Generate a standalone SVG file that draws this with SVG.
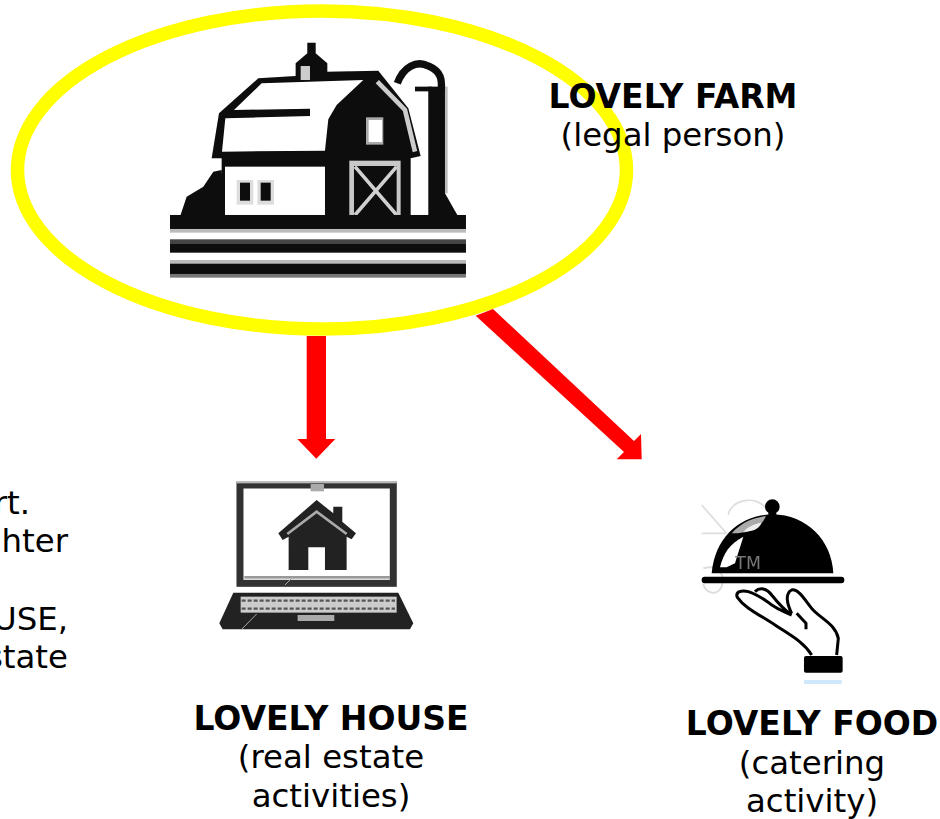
<svg xmlns="http://www.w3.org/2000/svg" width="940" height="819" viewBox="0 0 940 819">
<style>
.t{font-family:"DejaVu Sans",Verdana,sans-serif;font-size:32.4px;fill:#000;text-anchor:middle}
.b{font-weight:700;font-size:33px}
.e{text-anchor:end}
.k{fill:#0a0a0a}
.w{fill:#fff}
.g{fill:#bbb}
</style>
<defs><filter id="soft" x="-5%" y="-5%" width="110%" height="110%"><feGaussianBlur stdDeviation="1.8"/></filter></defs>
<rect width="940" height="819" fill="#fff"/>
<g id="farm-ring"><ellipse cx="322" cy="170" rx="304.5" ry="159" fill="none" stroke="#ffff00" stroke-width="13.5"/></g>
<g id="connectors" fill="#ff0000">
<polygon points="306.7,336 326,336 326,439 335.3,439 316.3,458.7 297.3,439 306.7,439"/>
<polygon points="475.7,315.7 493,309 634,441 641,434 641.7,459.3 616.7,459.3 624,452"/>
</g>
<g id="farm">
<g transform="translate(150,30) scale(0.3333)" filter="url(#soft)">
<path class="k" d="M90 560L110 500L160 470L190 425L215 420L225 560Z"/>
<path class="k" d="M885 490L925 560H840V490Z"/>
<path d="M185 385L207 250L325 145L437 138V100L472 70V38H497V70L532 100V125L685 122L775 235L812 378L782 385V560H215V385Z" class="k"/>
<path class="w" d="M216 365L226 265L480 258V236L252 240L335 160L640 150L560 225L535 268L525 362Z"/>
<rect x="452" y="108" width="28" height="42" fill="#ccc"/>
<rect x="225" y="410" width="300" height="146" class="w"/>
<rect x="260" y="450" width="50" height="74" fill="#ddd"/><rect x="322" y="450" width="50" height="74" fill="#ddd"/>
<rect x="270" y="458" width="30" height="54" class="k"/><rect x="332" y="458" width="30" height="54" class="k"/>
<rect x="648" y="262" width="52" height="82" fill="#aaa"/><rect x="656" y="270" width="40" height="66" class="w"/>
<path d="M682 155L765 240L795 365" fill="none" stroke="#ccc" stroke-width="14"/>
<rect x="598" y="392" width="154" height="168" fill="#c8c8c8"/><rect x="612" y="408" width="128" height="150" class="k"/>
<path d="M615 410L740 555M740 410L615 555" stroke="#d0d0d0" stroke-width="11"/>
<rect x="790" y="385" width="45" height="172" class="w"/>
<rect x="835" y="170" width="50" height="395" class="k"/><rect x="885" y="170" width="8" height="320" fill="#bbb"/>
<path d="M742 160C760 110 800 90 835 108C875 125 876 150 874 180" fill="none" stroke="#0a0a0a" stroke-width="22"/>
<rect x="795" y="170" width="50" height="14" class="k"/>
<rect x="60" y="555" width="888" height="42" class="k"/>
<rect x="60" y="597" width="888" height="11" class="g"/>
<rect x="60" y="628" width="888" height="12" fill="#444"/>
<rect x="60" y="640" width="888" height="28" class="k"/>
<rect x="60" y="690" width="888" height="11" class="g"/>
<rect x="60" y="701" width="888" height="31" class="k"/>
<rect x="60" y="732" width="888" height="11" fill="#777"/>
</g>
<text class="t b" x="673" y="108">LOVELY FARM</text>
<text class="t" x="673" y="146">(legal person)</text>
</g>
<g id="note">
<text class="t e" x="30" y="514">rt.</text>
<text class="t e" x="68" y="552">hter</text>
<text class="t e" x="68" y="630">USE,</text>
<text class="t e" x="68" y="668">state</text>
</g>
<g id="house">
<g transform="translate(0,470) scale(0.3333)" filter="url(#soft)">
<rect x="720" y="45" width="460" height="295" fill="#fff" stroke="#333" stroke-width="21"/>
<rect x="710" y="33" width="480" height="7" fill="#bbb"/>
<rect x="932" y="42" width="40" height="22" fill="#aaa"/>
<rect x="733" y="318" width="437" height="8" fill="#999"/>
<path d="M835 190L950 90L1000 130V110H1027V155L1068 190L1055 208L1040 200V300H975V232H925V300H866V200L848 210Z" fill="#222"/>
<path d="M862 192L950 125L1040 192" fill="none" stroke="#aaa" stroke-width="8"/>
<path d="M700 368H1195L1240 460L1230 478H668L658 460Z" fill="#222"/>
<rect x="722" y="380" width="468" height="48" fill="#ccc"/>
<path d="M725 392H1185M725 416H1185" stroke="#555" stroke-width="7" stroke-dasharray="12 6"/>
<rect x="893" y="435" width="110" height="18" fill="#aaa"/>
<path d="M855 345L878 322M725 478L770 432" stroke="#aaa" stroke-width="3"/>
</g>
<text class="t b" x="331" y="730">LOVELY HOUSE</text>
<text class="t" x="331" y="768">(real estate</text>
<text class="t" x="331" y="807">activities)</text>
</g>
<g id="food">
<g transform="translate(680,480) scale(0.3333)" filter="url(#soft)">
<path d="M65 75L140 160M65 160H140M145 105C150 60 230 40 262 90" fill="none" stroke="#ddd" stroke-width="5"/>
<path d="M70 265C120 250 135 290 125 320C110 350 75 340 70 310" fill="none" stroke="#ddd" stroke-width="6"/>
<circle cx="277" cy="80" r="22" fill="#000"/><rect x="265" y="90" width="24" height="20" fill="#000"/>
<path d="M95 280C105 170 180 105 278 103C380 105 455 180 460 280Z" fill="#000"/>
<path d="M120 262C130 220 150 190 190 170L165 250L140 262Z" fill="#fff"/>
<path d="M155 160C185 125 225 112 258 108C240 150 200 160 155 160Z" fill="#aaa"/>
<path d="M190 155C210 135 230 130 245 128C235 150 215 155 190 155Z" fill="#eee"/>
<text x="166" y="268" font-family="'DejaVu Sans',sans-serif" font-size="52" fill="#777">TM</text>
<rect x="65" y="290" width="428" height="20" rx="9" fill="#000"/>
<path d="M395 525C370 485 330 465 285 435C240 405 195 385 172 352C165 335 185 330 205 335C220 340 240 350 262 365C285 385 310 395 335 405M225 335C240 320 260 325 275 345C295 370 320 395 335 405M335 400C320 370 315 340 335 330C355 325 375 360 395 385C420 415 465 430 475 475L470 525M350 400L378 430V448" fill="none" stroke="#000" stroke-width="9" stroke-linejoin="round"/>
<rect x="372" y="528" width="116" height="50" rx="6" fill="#000"/>
<rect x="372" y="600" width="113" height="12" fill="#cfe8fb"/>
</g>
<text class="t b" x="812" y="735">LOVELY FOOD</text>
<text class="t" x="812" y="774">(catering</text>
<text class="t" x="812" y="812">activity)</text>
</g>
</svg>
